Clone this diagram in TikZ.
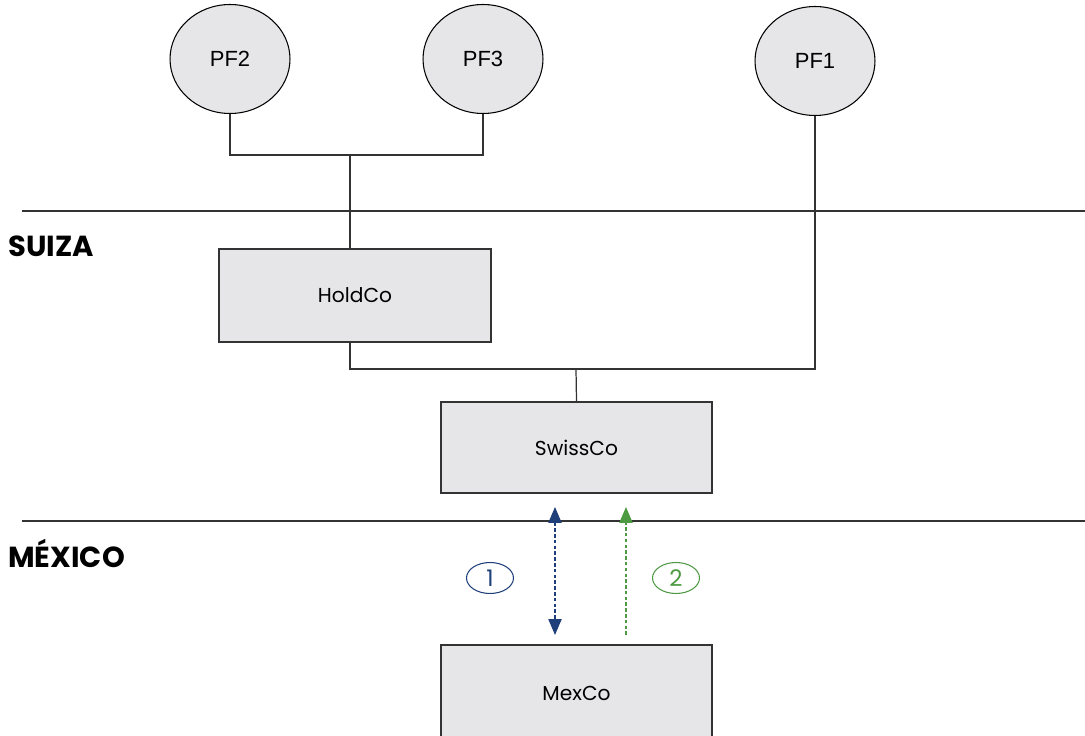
\documentclass[tikz,border=0pt]{standalone}
\usepackage{fontspec}
\setmainfont{Poppins}
\newfontfamily\pffont{Liberation Sans}
\usetikzlibrary{shapes.geometric,arrows.meta}
\definecolor{boxfill}{HTML}{E6E6E8}
\definecolor{linegray}{HTML}{333333}
\definecolor{navy}{HTML}{1F3F7A}
\definecolor{leaf}{HTML}{4E9A43}
\tikzset{
  pf/.style={ellipse, draw=black, line width=0.6pt, fill=boxfill, inner sep=0pt,
    minimum width=2.4cm, minimum height=2.18cm, font=\pffont\fontsize{12.5}{14}\selectfont},
  co/.style={rectangle, draw=linegray, line width=0.8pt, fill=boxfill, inner sep=0pt,
    font=\fontsize{11.5}{14}\selectfont},
  conn/.style={draw=linegray, line width=0.7pt},
  sep/.style={draw=linegray, line width=0.7pt},
  country/.style={anchor=west, inner sep=0pt, font=\bfseries\fontsize{16.5}{19}\selectfont},
  num/.style={ellipse, draw=#1, text=#1, line width=0.6pt, inner sep=0pt,
    minimum width=0.94cm, minimum height=0.62cm, font=\fontsize{13}{15}\selectfont},
  flow/.style={draw=#1, line width=0.7pt, dash pattern=on 2pt off 1.3pt}
}
\begin{document}
\begin{tikzpicture}[x=0.02cm, y=-0.02cm]
\useasboundingbox (0,0) rectangle (1085,736);
\clip (0,0) rectangle (1085,736);
% separators
\coordinate (L1) at (22,211); \coordinate (R1) at (1085,211);
\coordinate (L2) at (22,521); \coordinate (R2) at (1085,521);
\draw[sep] (L1) -- (R1);
\draw[sep] (L2) -- (R2);
\node[country] (suiza) at (8,246) {SUIZA};
\node[country] (mexico) at (8,553) {MÉXICO};
% persons
\node[pf] (PF2) at (230,59) {PF2};
\node[pf] (PF3) at (483,59) {PF3};
\node[pf] (PF1) at (815,61) {PF1};
% companies
\node[co, minimum width=5.44cm, minimum height=1.86cm] (HoldCo) at (355,295.5) {HoldCo};
\node[co, minimum width=5.42cm, minimum height=1.82cm] (SwissCo) at (576.5,447.5) {SwissCo};
\node[co, minimum width=5.42cm, minimum height=1.92cm] (MexCo) at (576.5,693) {MexCo};
% connectors
\coordinate (j1) at (350,155);
\coordinate (j2) at (576,369);
\draw[conn] (PF2.south) |- (j1) -| (PF3.south);
\draw[conn] (j1) -- (j1 |- HoldCo.north);
\draw[conn] (j1 |- HoldCo.south) |- (j2) -| (PF1.south);
\draw[conn] (j2) -- (SwissCo.north);
% flows
\coordinate (b1) at (555,507); \coordinate (b2) at (555,635);
\coordinate (g1) at (626,507); \coordinate (g2) at (626,635);
\draw[flow=navy, {Triangle[length=9pt, width=7.5pt, fill=navy]}-{Triangle[length=9pt, width=7.5pt, fill=navy]}] (b1) -- (b2);
\draw[flow=leaf, -{Triangle[length=9pt, width=7.5pt, fill=leaf]}] (g2) -- (g1);
\node[num=navy] (n1) at (490,578) {1};
\node[num=leaf] (n2) at (676,578) {2};
\end{tikzpicture}
\end{document}
